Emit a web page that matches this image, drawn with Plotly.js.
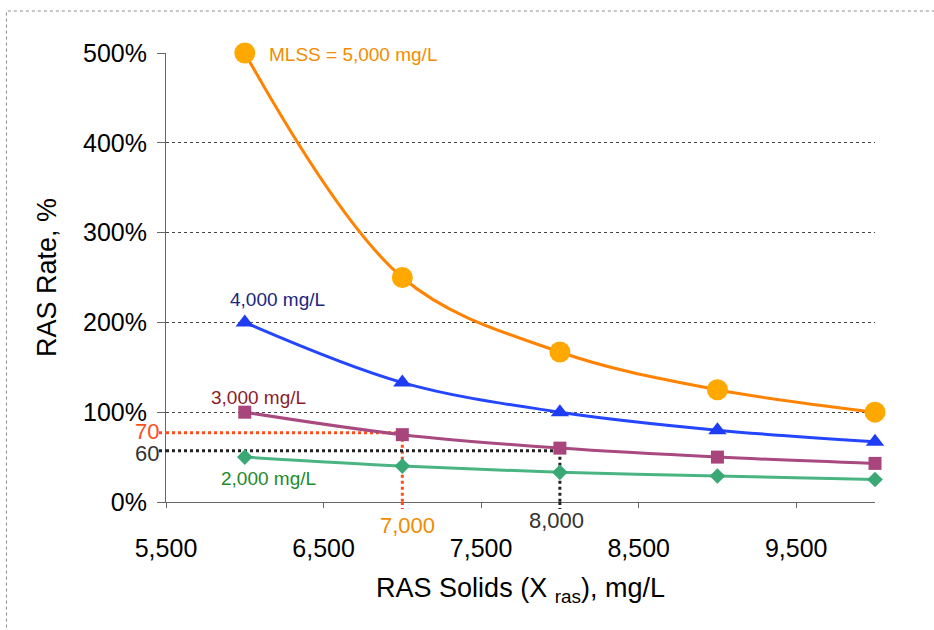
<!DOCTYPE html>
<html>
<head>
<meta charset="utf-8">
<script src="https://cdn.plot.ly/plotly-3.0.1.min.js"></script>
<style>
  html, body { margin: 0; padding: 0; background: #fff; overflow: hidden; }
  #chart { width: 934px; height: 630px; }
</style>
</head>
<body>
<div id="chart"></div>
<script>
// ---- data ----
const rasSolids = [6000, 7000, 8000, 9000, 10000];
const mlss5000 = [500, 250, 167, 125, 100];
const mlss4000 = [200, 133, 100, 80, 67];
const mlss3000 = [100, 75, 60, 50, 43];
const mlss2000 = [50, 40, 33, 29, 25];
const seriesLabels = ["MLSS = 5,000 mg/L", "4,000 mg/L", "3,000 mg/L", "2,000 mg/L"];
const yTickVals = [0, 100, 200, 300, 400, 500];
const yTickText = ["0%", "100%", "200%", "300%", "400%", "500%"];
const xTickVals = [5500, 6500, 7500, 8500, 9500];
const xTickText = ["5,500", "6,500", "7,500", "8,500", "9,500"];
// reading lines: [x of vertical drop, y level of horizontal line], with their labels
const readX = [7000, 8000];
const readY = [77, 57];
const readYLabels = ["70", "60"];
const readXLabels = ["7,000", "8,000"];

const FONT = "Liberation Sans, Arial, sans-serif";

function series(y, lineColor, markerColor, symbol, size) {
  return {
    x: rasSolids, y: y, type: "scatter", mode: "lines+markers",
    line: { color: lineColor, width: 3, shape: "spline", smoothing: 1 },
    marker: { color: markerColor, symbol: symbol, size: size, line: { width: 0 } },
    hoverinfo: "skip", showlegend: false, cliponaxis: false
  };
}

const traces = [
  series(mlss2000, "#4ab583", "#3aa874", "diamond", 12),
  series(mlss3000, "#a8497f", "#a8457c", "square", 13),
  series(mlss4000, "#2446ff", "#1f3cf5", "triangle-up", 16),
  series(mlss5000, "#ff8200", "#ffa800", "circle", 21)
];

const orangeRed = "#ff4d1a";
const dark = "#222222";
const readColors = [orangeRed, dark];

const shapes = [];
// outer chart-area frame (top and left edges visible)
shapes.push({ type: "path", xref: "paper", yref: "paper",
  path: "M -0.225,-0.4 L -0.225,1.0935 L 1.3,1.0935",
  line: { color: "#8a8a8a", width: 1, dash: "dot" } });
for (let i = 0; i < readX.length; i++) {
  shapes.push({ type: "line", xref: "x", yref: "y", x0: 5500, x1: readX[i], y0: readY[i], y1: readY[i],
    line: { color: readColors[i], width: 3, dash: "dot" }, layer: "below" });
  shapes.push({ type: "line", xref: "paper", yref: "y", xsizemode: "pixel", xanchor: 0, x0: -7, x1: 0,
    y0: readY[i], y1: readY[i], line: { color: readColors[i], width: 3, dash: "dot" } });
  shapes.push({ type: "line", xref: "x", yref: "y", x0: readX[i], x1: readX[i], y0: readY[i], y1: 0,
    line: { color: readColors[i], width: 3, dash: "dot" }, layer: "below" });
  shapes.push({ type: "line", xref: "x", yref: "paper", ysizemode: "pixel", yanchor: 0, y0: 0, y1: -7,
    x0: readX[i], x1: readX[i], line: { color: readColors[i], width: 3, dash: "dot" } });
}

const annotations = [
  { x: rasSolids[0], y: mlss5000[0], text: seriesLabels[0], showarrow: false, xanchor: "left",
    xshift: 22, yshift: -1, font: { family: FONT, size: 19, color: "#f28c00" } },
  { x: rasSolids[0], y: mlss4000[0], text: seriesLabels[1], showarrow: false, xanchor: "center",
    xshift: 33, yshift: 23, font: { family: FONT, size: 19, color: "#1c2580" } },
  { x: rasSolids[0], y: mlss3000[0], text: seriesLabels[2], showarrow: false, xanchor: "center",
    xshift: 14, yshift: 15, font: { family: FONT, size: 19, color: "#8b1c2c" } },
  { x: rasSolids[0], y: mlss2000[0], text: seriesLabels[3], showarrow: false, xanchor: "center",
    xshift: 24, yshift: -21, font: { family: FONT, size: 19, color: "#1e8a2a" } },
  { xref: "paper", x: 0, y: readY[0], text: readYLabels[0], showarrow: false, xanchor: "right",
    yanchor: "middle", xshift: -5, yshift: 1, font: { family: FONT, size: 22, color: orangeRed } },
  { xref: "paper", x: 0, y: readY[1], text: readYLabels[1], showarrow: false, xanchor: "right",
    yanchor: "middle", xshift: -5, yshift: -3, font: { family: FONT, size: 22, color: "#333" } },
  { x: readX[0], yref: "paper", y: 0, text: readXLabels[0], showarrow: false, xanchor: "center",
    yanchor: "middle", xshift: 5, yshift: -23, font: { family: FONT, size: 22, color: "#f08c00" } },
  { x: readX[1], yref: "paper", y: 0, text: readXLabels[1], showarrow: false, xanchor: "center",
    yanchor: "middle", xshift: -3, yshift: -18, font: { family: FONT, size: 22, color: "#333" } }
];

const layout = {
  width: 934, height: 630,
  margin: { l: 166, r: 59, t: 53, b: 128 },
  paper_bgcolor: "#ffffff", plot_bgcolor: "#ffffff",
  font: { family: FONT, color: "#000" },
  showlegend: false,
  xaxis: {
    range: [5500, 10000], tickmode: "array", tickvals: xTickVals, ticktext: xTickText,
    showgrid: false, zeroline: false, showline: true, linecolor: "#666", linewidth: 1,
    ticks: "outside", ticklen: 5, tickcolor: "#666", tickwidth: 1,
    tickfont: { family: FONT, size: 25, color: "#000" }, ticklabelstandoff: 19,
    title: { text: "RAS Solids (X <sub>ras</sub>), mg/L", font: { family: FONT, size: 27, color: "#000" }, standoff: 17 },
    automargin: false, fixedrange: true
  },
  yaxis: {
    range: [0, 500], tickmode: "array", tickvals: yTickVals, ticktext: yTickText,
    showgrid: true, gridcolor: "#444", griddash: "dot", gridwidth: 1,
    zeroline: false, showline: true, linecolor: "#666", linewidth: 1,
    ticks: "outside", ticklen: 8, tickcolor: "#666", tickwidth: 1,
    tickfont: { family: FONT, size: 25, color: "#000" }, ticklabelstandoff: 5,
    title: { text: "RAS Rate, %", font: { family: FONT, size: 27, color: "#000" }, standoff: 18 },
    automargin: false, fixedrange: true
  },
  shapes: shapes,
  annotations: annotations
};

Plotly.newPlot("chart", traces, layout, { staticPlot: true, displayModeBar: false });
</script>
</body>
</html>
